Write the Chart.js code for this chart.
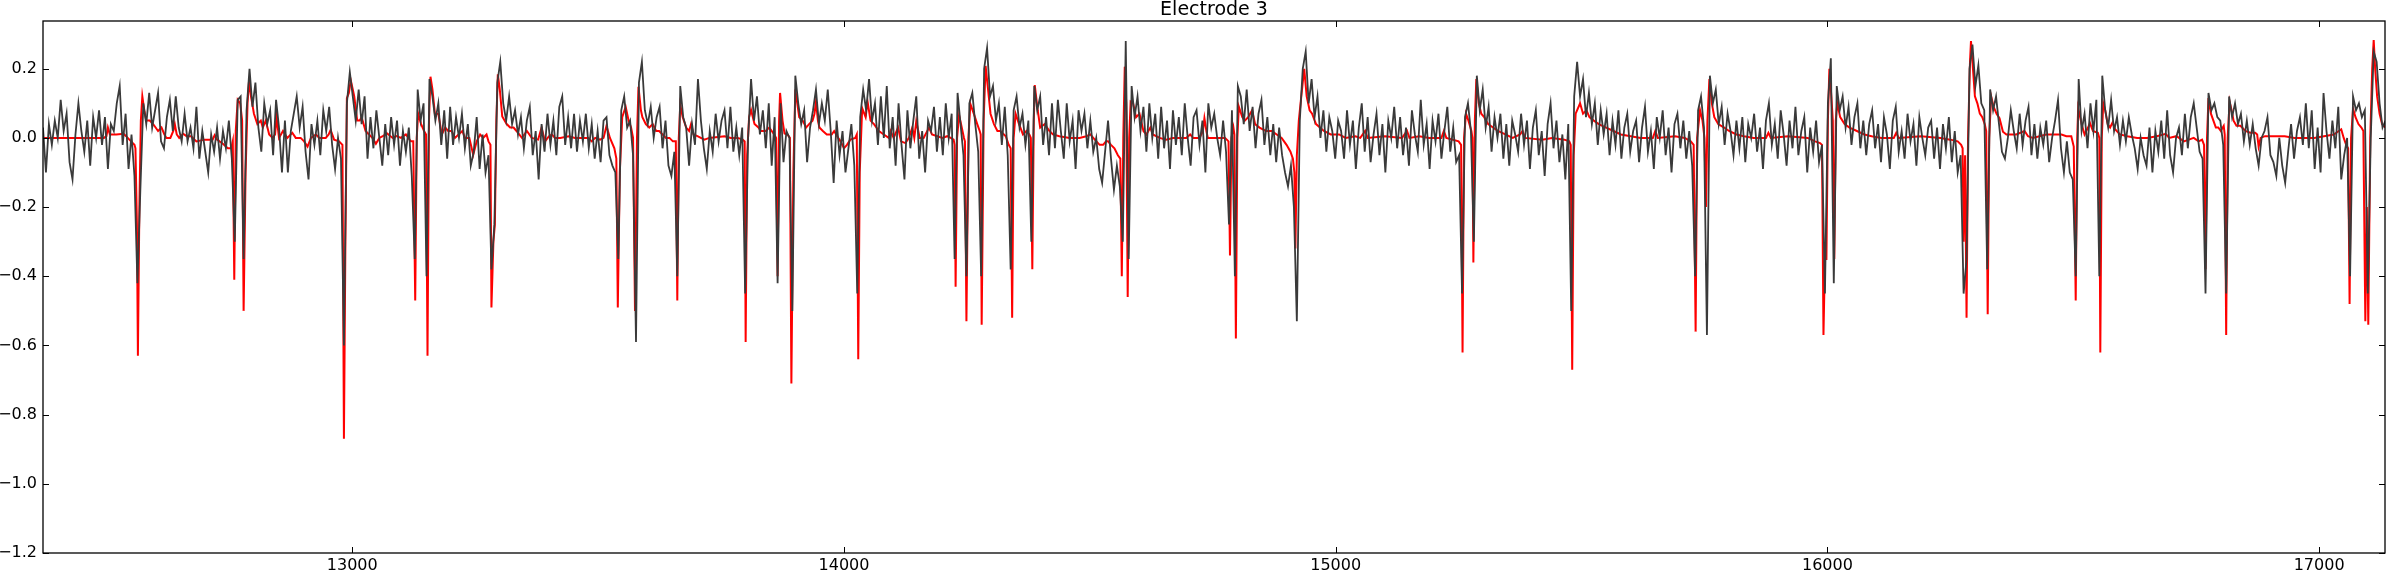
<!DOCTYPE html>
<html><head><meta charset="utf-8">
<script src="https://cdn.jsdelivr.net/npm/chart.js@4.4.0/dist/chart.umd.min.js"></script>
<style>html,body{margin:0;padding:0;background:#fff;}canvas{display:block;}</style>
</head><body>
<canvas id="c" width="2387" height="571"></canvas>
<script>
const chartTitle = 'Electrode 3';
const xTickValues = [13000, 14000, 15000, 16000, 17000];
const yTickValues = [-1.2, -1.0, -0.8, -0.6, -0.4, -0.2, 0.0, 0.2];
const xRange = [12371, 17134];
const yRange = [-1.2, 0.338];

// raw signal (dark grey), one value every graySampleStep samples
const graySampleStart = 12371;
const graySampleStep = 6;
const grayValues = [
0.03,-0.10,0.04,-0.02,0.05,0.00,0.11,0.02,0.07,-0.07,-0.12,0.01,0.10,0.02,-0.04,0.05,-0.08,0.06,0.00,0.08,
-0.02,0.06,-0.09,0.04,0.02,0.10,0.15,-0.02,0.07,-0.09,0.01,-0.11,-0.42,-0.15,0.10,0.04,0.13,0.03,0.08,0.13,
-0.01,-0.03,0.06,0.11,0.02,0.12,0.03,-0.01,0.07,-0.01,0.03,-0.03,0.09,-0.06,0.02,-0.04,-0.10,0.01,-0.04,0.03,
-0.06,0.02,-0.03,0.05,-0.06,-0.30,0.11,0.12,-0.35,0.08,0.20,0.09,0.16,0.03,-0.04,0.10,0.04,0.08,-0.05,0.11,
0.03,-0.10,0.05,-0.10,0.02,0.07,0.12,0.03,0.09,-0.04,-0.12,0.04,-0.02,0.05,-0.05,0.08,0.02,0.09,-0.02,-0.09,
0.00,-0.06,-0.60,0.10,0.19,0.12,0.05,0.14,0.04,0.12,-0.06,0.06,-0.03,0.08,0.00,-0.08,0.04,-0.05,0.06,-0.02,
0.05,-0.08,0.02,-0.04,0.03,-0.11,-0.35,0.14,0.05,0.10,-0.40,0.17,0.12,0.05,0.10,-0.02,0.08,-0.06,0.09,-0.02,
0.06,0.00,0.07,-0.03,0.04,-0.08,-0.04,0.06,-0.09,0.01,-0.10,-0.05,-0.38,-0.25,0.16,0.22,0.10,0.05,0.12,0.04,
0.08,0.01,0.06,-0.03,0.05,0.09,-0.05,0.02,-0.12,0.04,-0.04,0.07,-0.02,0.05,-0.05,0.09,0.12,-0.02,0.06,-0.03,
0.07,-0.04,0.05,-0.01,0.07,-0.03,0.04,-0.06,0.02,-0.07,0.05,0.06,-0.05,-0.08,-0.10,-0.35,0.08,0.12,0.03,0.05,
-0.05,-0.59,0.16,0.22,0.08,0.04,0.09,0.00,0.06,0.09,-0.03,0.05,-0.08,-0.11,-0.04,-0.40,0.15,0.06,0.03,-0.08,
0.04,-0.02,0.17,0.05,-0.03,-0.09,0.02,-0.04,0.07,-0.01,0.05,0.08,-0.03,0.09,-0.04,0.03,-0.05,0.03,-0.45,0.00,
0.17,0.05,0.12,0.01,0.08,-0.03,0.10,-0.08,0.06,-0.42,0.10,-0.07,0.02,0.00,-0.50,0.18,0.10,0.04,0.08,-0.07,
0.03,0.08,0.14,0.04,0.10,0.05,0.14,0.02,-0.13,0.05,-0.05,0.02,-0.10,-0.03,0.04,-0.08,-0.45,0.06,0.14,0.08,
0.17,0.05,0.10,-0.02,0.12,0.00,0.15,-0.03,0.06,-0.08,0.10,-0.02,-0.12,0.08,-0.03,0.05,0.12,-0.06,0.02,-0.10,
0.05,0.02,0.09,-0.04,0.06,-0.05,0.10,0.00,0.07,-0.35,0.13,0.04,-0.05,-0.40,0.10,0.13,0.04,-0.04,-0.40,0.20,
0.26,0.12,0.15,0.05,0.10,-0.02,0.09,-0.05,-0.38,0.08,0.12,0.03,0.07,-0.02,0.05,-0.30,0.15,0.08,0.12,-0.02,
0.06,-0.05,0.10,-0.03,0.11,0.02,-0.06,0.10,-0.01,0.05,-0.09,0.08,0.02,0.07,-0.03,0.05,-0.04,0.00,-0.09,-0.13,
-0.04,0.05,-0.06,-0.15,-0.08,-0.14,-0.30,0.28,-0.35,0.15,0.06,0.12,0.02,0.09,-0.04,0.10,0.00,0.07,-0.06,0.09,
-0.03,0.05,-0.09,0.08,-0.02,0.06,-0.05,0.10,0.00,-0.08,0.06,0.08,-0.02,0.05,-0.10,0.10,0.03,0.07,0.00,-0.05,
0.05,-0.04,-0.25,0.08,-0.40,0.15,0.12,0.04,0.14,0.02,0.09,-0.03,0.07,0.11,-0.02,0.06,-0.05,0.04,-0.07,0.03,
-0.05,-0.10,-0.14,-0.08,-0.20,-0.53,0.05,0.20,0.25,0.10,0.17,0.06,0.12,0.00,0.08,-0.04,0.06,0.02,-0.06,0.05,
0.02,-0.06,0.08,-0.02,0.05,-0.09,0.03,0.10,-0.04,0.06,-0.07,0.01,0.07,-0.05,0.04,-0.10,0.05,0.00,0.09,-0.03,
0.06,-0.05,0.03,-0.08,0.08,0.01,-0.04,0.11,-0.02,0.04,-0.09,0.05,-0.01,0.07,-0.06,0.02,0.09,-0.04,0.03,-0.07,
-0.05,-0.45,0.06,0.10,0.02,-0.30,0.18,0.08,0.14,0.03,0.09,-0.04,0.06,0.00,0.07,-0.06,0.04,-0.08,0.05,0.01,
-0.04,0.07,-0.02,0.05,-0.09,0.03,0.08,-0.05,0.02,-0.11,0.04,0.10,-0.03,0.05,-0.07,0.01,-0.12,0.04,-0.50,0.12,
0.22,0.12,0.17,0.06,0.13,0.04,0.10,-0.02,0.08,0.01,0.07,-0.05,0.05,-0.02,0.08,-0.06,0.03,0.07,-0.04,0.02,
0.05,-0.07,0.03,0.09,-0.04,0.02,-0.09,0.06,0.00,0.08,-0.05,0.03,-0.10,0.04,0.07,-0.03,0.05,-0.06,0.02,-0.08,
-0.40,0.08,0.12,0.03,-0.57,0.18,0.10,0.14,0.04,0.09,-0.02,0.07,0.02,-0.05,0.05,-0.03,0.06,-0.07,0.04,0.00,
0.07,-0.04,0.03,-0.09,0.05,0.10,-0.02,0.04,-0.06,0.08,0.01,-0.08,0.05,-0.03,0.09,-0.05,0.02,0.06,-0.10,0.03,
-0.04,0.05,-0.07,-0.02,-0.45,0.10,0.23,-0.42,0.15,0.08,0.12,0.03,0.09,-0.02,0.06,0.10,-0.03,0.05,-0.05,0.04,
0.08,-0.03,0.04,-0.07,0.06,0.01,-0.09,0.05,0.09,-0.04,0.02,-0.06,0.07,-0.01,0.04,-0.08,0.06,0.00,-0.05,0.03,
0.05,-0.06,0.03,-0.09,0.04,-0.03,0.06,-0.07,0.02,-0.10,-0.05,-0.45,-0.35,0.20,0.27,0.15,0.21,0.10,0.08,-0.38,
0.14,0.08,0.12,0.04,-0.04,-0.06,0.00,0.08,0.02,-0.03,0.07,-0.02,0.05,0.09,-0.05,0.04,-0.06,0.03,-0.02,0.05,
-0.07,0.00,0.05,0.11,-0.03,-0.10,-0.01,-0.10,-0.12,-0.40,0.17,0.02,0.07,-0.03,0.10,0.02,0.11,-0.40,0.18,0.08,
0.03,0.11,0.02,0.06,-0.02,0.05,-0.01,0.06,0.01,-0.03,-0.09,0.00,-0.05,-0.08,0.03,-0.10,0.02,-0.04,0.05,-0.06,
0.08,-0.05,-0.10,0.00,0.03,-0.05,0.07,-0.03,0.06,0.10,0.03,-0.04,-0.06,-0.45,0.13,0.08,0.10,0.06,0.05,-0.02,
-0.45,0.12,0.06,0.10,0.04,0.07,-0.01,0.05,-0.02,0.04,-0.03,-0.08,0.00,0.02,0.06,-0.05,-0.07,-0.11,0.00,-0.08,
-0.13,-0.04,0.04,-0.06,0.02,0.06,-0.02,0.10,-0.03,0.08,-0.09,0.03,-0.10,0.13,0.02,-0.06,0.05,-0.03,0.09,-0.12,
-0.05,0.00,-0.40,0.12,0.08,0.10,0.06,0.08,-0.45,0.00,0.25,0.22,0.10,0.03,0.05
];

// filtered trace (red): [sample, value]
const redTrace = [
[12371,0],[12440,0],[12495,0],[12500,0.005],[12503,0.03],[12507,0.01],[12520,0.01],[12535,0.012],[12540,0.005],[12550,-0.01],[12557,-0.02],[12559,-0.03],[12562,-0.25],[12564,-0.63],[12567,-0.2],[12570,0.05],[12573,0.12],[12577,0.08],[12581,0.05],[12588,0.05],[12595,0.04],[12600,0.03],[12605,0.02],[12612,0.03],[12618,0.01],[12622,0],[12630,0],[12636,0.02],[12639,0.04],[12643,0.01],[12648,0],[12656,0.012],[12663,0.005],[12672,0.005],[12683,-0.01],[12700,-0.005],[12716,-0.005],[12720,0.008],[12725,-0.005],[12735,-0.015],[12747,-0.03],[12754,-0.03],[12757,-0.01],[12760,-0.41],[12763,0.02],[12767,0.11],[12772,0.1],[12776,0.05],[12779,-0.5],[12783,-0.1],[12787,0.1],[12790,0.165],[12794,0.12],[12800,0.07],[12807,0.04],[12814,0.05],[12818,0.03],[12824,0.05],[12831,0.01],[12838,0],[12843,0.01],[12846,0.06],[12851,0],[12859,0.02],[12868,0],[12878,0.015],[12885,0],[12895,0],[12902,-0.01],[12909,-0.025],[12916,0],[12926,0.01],[12933,0],[12946,0],[12952,0.01],[12956,0.023],[12963,-0.005],[12973,-0.01],[12980,-0.02],[12983,-0.87],[12986,-0.3],[12989,0.115],[12993,0.13],[12997,0.166],[13001,0.14],[13004,0.12],[13010,0.05],[13015,0.05],[13019,0.06],[13023,0.04],[13027,0.02],[13034,0.01],[13041,0],[13048,-0.017],[13055,0],[13062,0.005],[13071,0.013],[13082,0],[13090,0.005],[13099,0],[13109,0.01],[13119,-0.01],[13124,-0.01],[13128,-0.47],[13131,0],[13134,0.07],[13140,0.04],[13146,0.02],[13150,0.01],[13153,-0.63],[13156,0.05],[13159,0.177],[13163,0.14],[13168,0.07],[13175,0.07],[13182,0.01],[13189,0.03],[13195,0.02],[13202,0.02],[13209,0],[13216,0.01],[13224,0.02],[13229,0],[13238,0],[13246,-0.049],[13253,-0.01],[13260,0.01],[13266,0],[13273,0.01],[13277,-0.01],[13281,-0.02],[13283,-0.49],[13287,-0.3],[13290,-0.25],[13293,0.05],[13296,0.184],[13300,0.14],[13305,0.062],[13314,0.04],[13321,0.03],[13328,0.03],[13334,0.02],[13345,0],[13350,0.01],[13355,0.02],[13365,0],[13378,-0.005],[13385,0.03],[13392,-0.01],[13400,0.005],[13406,0.01],[13412,0],[13423,0],[13440,0.005],[13453,0],[13480,0],[13487,-0.01],[13494,0],[13504,-0.005],[13511,0],[13517,0.035],[13524,0],[13533,-0.03],[13537,-0.06],[13540,-0.49],[13544,-0.1],[13549,0.06],[13556,0.09],[13562,0.05],[13567,0.03],[13571,0],[13575,-0.5],[13579,0],[13582,0.148],[13587,0.08],[13590,0.06],[13597,0.04],[13604,0.03],[13611,0.04],[13618,0.02],[13624,0.02],[13631,0.01],[13638,0],[13645,0],[13652,-0.01],[13658,-0.01],[13661,-0.47],[13664,0],[13667,0.095],[13672,0.06],[13679,0.03],[13685,0.02],[13689,0.04],[13694,0.01],[13702,0.005],[13716,-0.005],[13726,0],[13757,0.005],[13770,0],[13784,0],[13794,-0.005],[13798,-0.01],[13800,-0.59],[13803,-0.05],[13807,0.06],[13811,0.081],[13818,0.04],[13826,0.03],[13831,0.02],[13841,0.02],[13848,0.03],[13858,0.01],[13862,0],[13865,-0.4],[13868,0.05],[13870,0.13],[13875,0.05],[13879,0.013],[13885,0.01],[13890,0],[13893,-0.71],[13897,-0.1],[13901,0.14],[13909,0.06],[13916,0.05],[13923,0.03],[13929,0.04],[13936,0.05],[13940,0.07],[13943,0.105],[13947,0.05],[13950,0.03],[13957,0.02],[13965,0.01],[13975,0.01],[13980,0.02],[13986,0.005],[13993,-0.01],[14000,-0.03],[14006,-0.02],[14013,-0.005],[14023,0],[14026,0.01],[14029,-0.64],[14032,-0.1],[14037,0.086],[14044,0.06],[14048,0.105],[14054,0.05],[14061,0.04],[14071,0.02],[14081,0.01],[14091,0],[14095,0.02],[14101,0],[14110,0.03],[14116,-0.01],[14125,-0.015],[14132,0],[14139,0.03],[14143,0],[14147,0.048],[14154,0],[14162,0],[14173,0.03],[14179,0.01],[14190,0.005],[14200,0],[14210,0.005],[14217,0],[14223,-0.005],[14225,-0.02],[14227,-0.43],[14230,0],[14234,0.066],[14238,0.04],[14244,0],[14246,-0.01],[14249,-0.53],[14253,0],[14257,0.098],[14264,0.07],[14271,0.04],[14276,0.02],[14278,0.01],[14280,-0.54],[14284,0.05],[14288,0.208],[14293,0.14],[14298,0.07],[14305,0.04],[14312,0.02],[14318,0.02],[14329,0.005],[14335,-0.02],[14339,-0.03],[14342,-0.52],[14345,0],[14349,0.07],[14356,0.04],[14364,0.01],[14371,0.02],[14377,0.01],[14380,0],[14383,-0.38],[14386,0.05],[14388,0.153],[14394,0.08],[14399,0.03],[14408,0.04],[14418,0.02],[14425,0.01],[14438,0.005],[14459,0],[14479,0],[14493,0.005],[14501,0.01],[14510,-0.005],[14520,-0.02],[14527,-0.02],[14533,-0.01],[14537,-0.01],[14543,-0.02],[14550,-0.03],[14557,-0.05],[14562,-0.06],[14565,-0.4],[14568,0],[14571,0.206],[14574,0.1],[14577,-0.46],[14580,0],[14583,0.105],[14588,0.1],[14594,0.06],[14601,0.07],[14609,0.02],[14615,0.01],[14623,0.03],[14628,0.01],[14642,0],[14655,-0.005],[14669,0],[14696,0],[14704,0.01],[14710,0],[14723,0],[14730,0.02],[14733,0.057],[14737,0.02],[14740,0],[14775,0],[14782,-0.01],[14785,-0.34],[14788,0],[14792,0.03],[14794,0.01],[14797,-0.58],[14800,0],[14803,0.09],[14810,0.06],[14815,0.05],[14822,0.06],[14830,0.08],[14836,0.04],[14845,0.03],[14858,0.02],[14870,0.02],[14880,0.01],[14890,0],[14900,-0.02],[14908,-0.04],[14913,-0.06],[14916,-0.1],[14918,-0.32],[14921,-0.05],[14925,0.05],[14930,0.12],[14936,0.2],[14941,0.12],[14947,0.08],[14952,0.07],[14960,0.04],[14968,0.03],[14976,0.02],[14990,0.01],[15007,0.01],[15020,0],[15040,0.005],[15050,0],[15060,0.02],[15065,0],[15100,0.005],[15135,0],[15145,0.02],[15150,0],[15170,0.005],[15190,0],[15215,0],[15220,0.02],[15225,0],[15250,-0.01],[15255,-0.02],[15258,-0.62],[15261,0],[15265,0.07],[15270,0.05],[15276,0.02],[15278,0],[15280,-0.36],[15283,0.05],[15286,0.17],[15291,0.1],[15296,0.07],[15302,0.06],[15310,0.04],[15320,0.03],[15330,0.02],[15345,0.01],[15360,0],[15375,0.01],[15380,0.02],[15385,0],[15420,-0.005],[15440,0],[15465,-0.005],[15475,-0.01],[15478,-0.02],[15481,-0.67],[15484,-0.05],[15488,0.07],[15497,0.1],[15503,0.07],[15510,0.08],[15516,0.06],[15525,0.05],[15535,0.04],[15550,0.03],[15565,0.02],[15580,0.01],[15600,0.005],[15620,0],[15645,0],[15650,0.02],[15655,0],[15690,0.005],[15710,0],[15722,-0.01],[15728,-0.02],[15732,-0.56],[15735,0],[15741,0.08],[15746,0.05],[15750,0],[15753,-0.2],[15756,0.05],[15760,0.17],[15765,0.1],[15770,0.06],[15778,0.04],[15790,0.03],[15800,0.02],[15815,0.01],[15830,0.005],[15850,0],[15875,0],[15880,0.015],[15885,0],[15920,0.005],[15960,0],[15975,-0.01],[15985,-0.015],[15989,-0.02],[15992,-0.57],[15995,-0.35],[15998,-0.35],[16001,0.05],[16004,0.2],[16008,0.12],[16011,0.05],[16014,-0.35],[16017,0.05],[16020,0.1],[16026,0.06],[16035,0.04],[16045,0.03],[16060,0.02],[16075,0.01],[16090,0.005],[16110,0],[16135,0],[16140,0.015],[16145,0],[16190,0.005],[16230,0],[16250,-0.005],[16265,-0.01],[16272,-0.02],[16275,-0.03],[16277,-0.3],[16280,-0.05],[16283,-0.52],[16286,0],[16290,0.22],[16292,0.28],[16296,0.2],[16300,0.12],[16305,0.1],[16310,0.07],[16315,0.06],[16320,0.04],[16323,0.02],[16326,-0.51],[16329,0],[16333,0.12],[16338,0.09],[16344,0.07],[16350,0.057],[16357,0.018],[16364,0.01],[16384,0.01],[16401,0.02],[16408,0.005],[16418,0],[16445,0.01],[16476,0.01],[16486,0.005],[16496,0.005],[16501,-0.025],[16505,-0.47],[16508,0],[16510,0.086],[16517,0.04],[16523,0.01],[16530,0.03],[16534,0.043],[16540,0.02],[16550,0.015],[16553,0],[16555,-0.62],[16558,0],[16561,0.1],[16565,0.08],[16570,0.04],[16575,0.03],[16580,0.045],[16585,0.025],[16595,0.01],[16610,0.005],[16630,0],[16650,0],[16670,0.005],[16688,0.012],[16695,0],[16710,0.005],[16725,-0.01],[16735,-0.005],[16745,0],[16755,-0.01],[16762,-0.005],[16766,-0.02],[16769,-0.38],[16772,0],[16775,0.115],[16780,0.07],[16785,0.05],[16790,0.03],[16795,0.03],[16800,0.02],[16806,0.035],[16808,0.01],[16811,-0.57],[16814,0],[16818,0.105],[16822,0.08],[16826,0.05],[16832,0.035],[16840,0.035],[16850,0.02],[16860,0.015],[16870,0.015],[16874,0.01],[16877,-0.025],[16881,0],[16890,0.005],[16930,0.005],[16950,0],[16990,0],[17010,0.005],[17030,0.01],[17040,0.02],[17045,0.025],[17050,0],[17055,-0.02],[17059,-0.03],[17062,-0.48],[17065,0],[17069,0.085],[17074,0.06],[17080,0.04],[17086,0.03],[17090,0.02],[17094,-0.53],[17097,-0.2],[17100,-0.54],[17104,0],[17108,0.2],[17111,0.283],[17114,0.2],[17118,0.12],[17123,0.07],[17128,0.04],[17135,0.03]
];

const grayData = grayValues.map((v, i) => ({x: graySampleStart + i * graySampleStep, y: v}));
const redData = redTrace.map(p => ({x: p[0], y: p[1]}));

const FONT = '"DejaVu Sans", "Liberation Sans", sans-serif';

const framePlugin = {
  id: 'framePlugin',
  afterDraw(chart) {
    const {ctx, chartArea: a, scales: {x, y}} = chart;
    ctx.save();
    ctx.strokeStyle = '#000';
    ctx.lineWidth = 1;
    ctx.beginPath();
    xTickValues.forEach(v => {
      const px = Math.round(x.getPixelForValue(v)) + 0.5;
      ctx.moveTo(px, a.bottom); ctx.lineTo(px, a.bottom - 6);
      ctx.moveTo(px, a.top); ctx.lineTo(px, a.top + 6);
    });
    yTickValues.forEach(v => {
      const py = Math.round(y.getPixelForValue(v)) + 0.5;
      ctx.moveTo(a.left, py); ctx.lineTo(a.left + 6, py);
      ctx.moveTo(a.right, py); ctx.lineTo(a.right - 6, py);
    });
    ctx.stroke();
    ctx.lineWidth = 1.3;
    ctx.strokeRect(a.left, a.top, a.right - a.left, a.bottom - a.top);
    ctx.fillStyle = '#000';
    ctx.font = '19px ' + FONT;
    ctx.textAlign = 'center';
    ctx.textBaseline = 'alphabetic';
    ctx.fillText(chartTitle, (a.left + a.right) / 2, 15);
    ctx.restore();
  }
};

new Chart(document.getElementById('c'), {
  type: 'line',
  data: {
    datasets: [
      {label: 'signal', data: grayData, borderColor: '#3a3a3a', borderWidth: 1.8, pointRadius: 0, tension: 0, fill: false},
      {label: 'filtered', data: redData, borderColor: '#ff0000', borderWidth: 2, pointRadius: 0, tension: 0, fill: false}
    ]
  },
  options: {
    responsive: false,
    animation: false,
    devicePixelRatio: 1,
    parsing: true,
    layout: {padding: {left: 0, right: 2, top: 21, bottom: 0}},
    plugins: {legend: {display: false}, title: {display: false}, tooltip: {enabled: false}},
    scales: {
      x: {
        type: 'linear', min: xRange[0], max: xRange[1],
        grid: {display: false, drawTicks: false},
        border: {display: false},
        afterFit: s => { s.height = 18; },
        afterBuildTicks: s => { s.ticks = xTickValues.map(v => ({value: v})); },
        ticks: {font: {family: FONT, size: 16}, color: '#000', padding: 3, maxRotation: 0, autoSkip: false,
          callback: v => String(v)}
      },
      y: {
        type: 'linear', min: yRange[0], max: yRange[1],
        grid: {display: false, drawTicks: false},
        border: {display: false},
        afterFit: s => { s.width = 43; },
        afterBuildTicks: s => { s.ticks = yTickValues.map(v => ({value: v})); },
        ticks: {font: {family: FONT, size: 16}, color: '#000', padding: 6, autoSkip: false,
          callback: v => (v < -1e-9 ? '\u2212' : '') + Math.abs(v).toFixed(1)}
      }
    }
  },
  plugins: [framePlugin]
});
</script>
</body></html>
